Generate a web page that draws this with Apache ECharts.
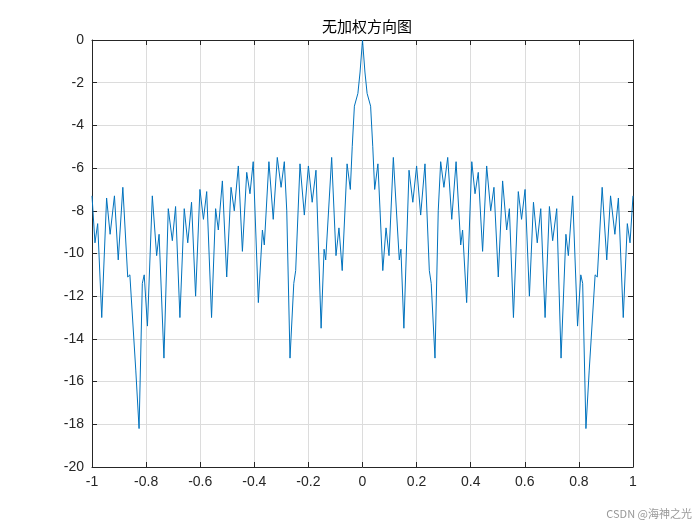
<!DOCTYPE html>
<html>
<head>
<meta charset="utf-8">
<title>无加权方向图</title>
<script src="https://cdn.jsdelivr.net/npm/echarts@6/dist/echarts.min.js"></script>
<style>body{margin:0;background:#fff}#main{width:700px;height:525px}</style>
</head>
<body>
<div id="main"></div>
<script>
// right half of the pattern (angle sine, dB); left half is its mirror
var halfX = [0, 0.009, 0.017, 0.03, 0.038, 0.045, 0.057, 0.075, 0.087, 0.098, 0.114, 0.136, 0.142, 0.153,
    0.172, 0.186, 0.2, 0.215, 0.231, 0.247, 0.254, 0.268, 0.28, 0.289, 0.301, 0.315, 0.33, 0.346, 0.363,
    0.37, 0.385, 0.404, 0.416, 0.428, 0.444, 0.459, 0.474, 0.486, 0.502, 0.518, 0.533, 0.543, 0.558,
    0.576, 0.588, 0.601, 0.617, 0.632, 0.646, 0.659, 0.675, 0.691, 0.703, 0.718, 0.734, 0.752, 0.761,
    0.777, 0.795, 0.807, 0.814, 0.826, 0.838, 0.86, 0.868, 0.886, 0.903, 0.917, 0.933, 0.946, 0.964,
    0.979, 0.989, 1.0];
var halfY = [0, -1.5, -2.5, -3.1, -5, -7.0, -5.8, -10.8, -8.8, -10.1, -5.5, -10.3, -9.8, -13.5,
    -6.1, -7.6, -5.9, -8.2, -5.8, -10.8, -11.4, -14.9, -8.0, -5.7, -6.9, -5.5, -8.4, -5.7, -9.6,
    -8.9, -12.3, -5.7, -7.2, -6.2, -9.9, -5.9, -8.0, -6.9, -11.1, -6.6, -8.9, -7.9, -13.0,
    -7.1, -8.4, -7.0, -12.0, -7.6, -9.5, -7.9, -13.0, -7.8, -9.4, -7.9, -14.9, -9.1, -10.1,
    -7.3, -13.4, -11.0, -11.4, -18.2, -15.5, -11.0, -11.1, -6.9, -10.3, -7.3, -9.1, -7.4, -13.0,
    -8.6, -9.5, -7.3];
var xTicks = [-1, -0.8, -0.6, -0.4, -0.2, 0, 0.2, 0.4, 0.6, 0.8, 1];
var yTicks = [0, -2, -4, -6, -8, -10, -12, -14, -16, -18, -20];

var pts = [];
for (var i = halfX.length - 1; i > 0; i--) pts.push([-halfX[i], halfY[i]]);
for (var j = 0; j < halfX.length; j++) pts.push([halfX[j], halfY[j]]);

var chart = echarts.init(document.getElementById('main'));
var font = 'Liberation Sans, Arial, sans-serif';
var lab = {color: '#262626', fontSize: 14, fontFamily: font};
var line = {onZero: false, lineStyle: {color: '#262626', width: 1}};
var tick = {inside: true, length: 5, lineStyle: {color: '#262626'}};
chart.setOption({
    animation: false,
    backgroundColor: '#fff',
    title: {text: '无加权方向图', left: 362, top: 14, textAlign: 'center',
        textStyle: {fontSize: 15, fontWeight: 'normal', color: '#000', fontFamily: 'Noto Sans CJK SC'}},
    graphic: [{type: 'text', right: 8, bottom: 6,
        style: {text: 'CSDN @海神之光', fill: '#999', fontSize: 11, fontFamily: 'Noto Sans CJK SC'}}],
    grid: {left: 92, right: 67, top: 40, bottom: 58},
    xAxis: [{type: 'value', position: 'bottom', min: -1, max: 1, interval: 0.2, axisLine: line, axisTick: tick,
        axisLabel: Object.assign({margin: 8, formatter: function (v) { return String(Math.round(v * 10) / 10); }}, lab),
        splitLine: {lineStyle: {color: '#dcdcdc'}}},
        {type: 'value', position: 'top', min: -1, max: 1, interval: 0.2, axisLine: line, axisTick: tick,
        axisLabel: {show: false}, splitLine: {show: false}}],
    yAxis: [{type: 'value', position: 'left', min: -20, max: 0, interval: 2, axisLine: line, axisTick: tick,
        axisLabel: Object.assign({margin: 8}, lab), splitLine: {lineStyle: {color: '#dcdcdc'}}},
        {type: 'value', position: 'right', min: -20, max: 0, interval: 2, axisLine: line, axisTick: tick,
        axisLabel: {show: false}, splitLine: {show: false}}],
    series: [{type: 'line', data: pts, showSymbol: false, lineStyle: {color: '#0072BD', width: 1}}]
});
</script>
</body>
</html>
